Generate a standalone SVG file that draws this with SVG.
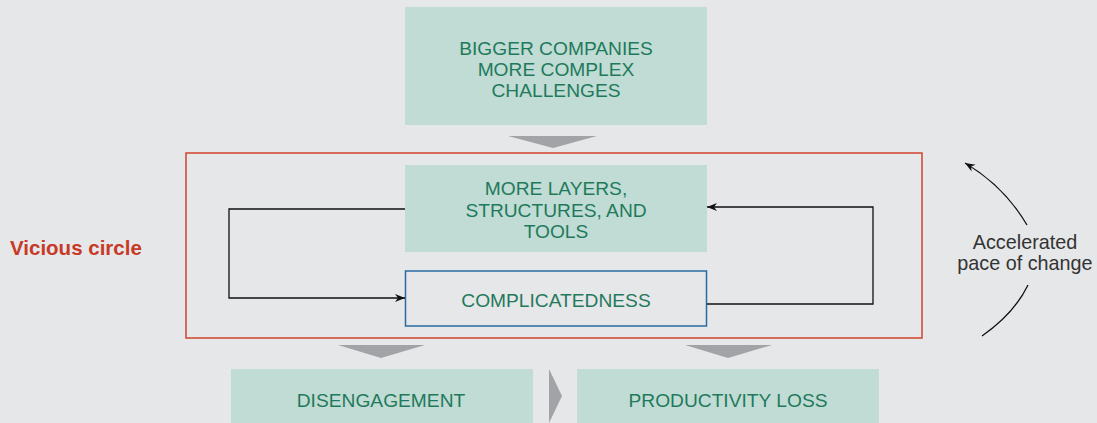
<svg xmlns="http://www.w3.org/2000/svg" width="1097" height="423" viewBox="0 0 1097 423">
<defs>
<style>
.box{fill:#c0dcd4}
.t{font-family:"Liberation Sans",Arial,sans-serif;font-size:19.2px;fill:#1f7a5c;text-anchor:middle}
.chev{fill:#a2a3a6}
.con{fill:none;stroke:#111;stroke-width:1.3}
.lbl{font-family:"Liberation Sans",Arial,sans-serif;font-size:19.8px;fill:#333;text-anchor:middle}
</style>
<marker id="ah" viewBox="0 0 10 10" refX="10" refY="5" markerWidth="10" markerHeight="10" markerUnits="userSpaceOnUse" orient="auto">
<path d="M0,1 L10,5 L0,9 L3,5 Z" fill="#111"/>
</marker>
</defs>
<rect width="1097" height="423" fill="#e6e7e9"/>

<g id="vicious-circle-frame">
<rect x="186" y="153" width="736" height="185" fill="none" stroke="#d2432c" stroke-width="1.5"/>
<text x="10" y="255" font-family="Liberation Sans,Arial,sans-serif" font-size="20.5" font-weight="bold" fill="#c63a26">Vicious circle</text>
</g>

<g id="bigger-companies">
<rect class="box" x="405" y="7" width="302" height="118"/>
<text class="t" x="556" y="55">BIGGER COMPANIES</text>
<text class="t" x="556" y="76">MORE COMPLEX</text>
<text class="t" x="556" y="97">CHALLENGES</text>
</g>

<g id="more-layers">
<rect class="box" x="405" y="165" width="302" height="87"/>
<text class="t" x="556" y="195">MORE LAYERS,</text>
<text class="t" x="556" y="217">STRUCTURES, AND</text>
<text class="t" x="556" y="238">TOOLS</text>
</g>

<g id="complicatedness">
<rect x="405.5" y="271" width="301" height="55" fill="#e6e7e9" stroke="#2a6aa3" stroke-width="1.5"/>
<text class="t" x="556" y="307">COMPLICATEDNESS</text>
</g>

<g id="disengagement">
<rect class="box" x="231" y="369" width="302" height="54"/>
<text class="t" x="381" y="407">DISENGAGEMENT</text>
</g>

<g id="productivity-loss">
<rect class="box" x="577" y="369" width="302" height="54"/>
<text class="t" x="728" y="407">PRODUCTIVITY LOSS</text>
</g>

<g id="accelerated-pace">
<text class="lbl" x="1025" y="249">Accelerated</text>
<text class="lbl" x="1025" y="270">pace of change</text>
</g>

<g id="connectors">
<polygon class="chev" points="508,136 597,136 553,148"/>
<polygon class="chev" points="338,345 425,345 381,358"/>
<polygon class="chev" points="685,345 772,345 728,358"/>
<polygon class="chev" points="549,369 562,396 549,423"/>
<polyline class="con" points="405,209 229,209 229,298 405,298" marker-end="url(#ah)"/>
<polyline class="con" points="707,304 873,304 873,207 707,207" marker-end="url(#ah)"/>
<path class="con" d="M1027,225 Q1004,186 965,163" marker-end="url(#ah)"/>
<path class="con" d="M1028,285 Q1014,314 982,336"/>
</g>
</svg>
